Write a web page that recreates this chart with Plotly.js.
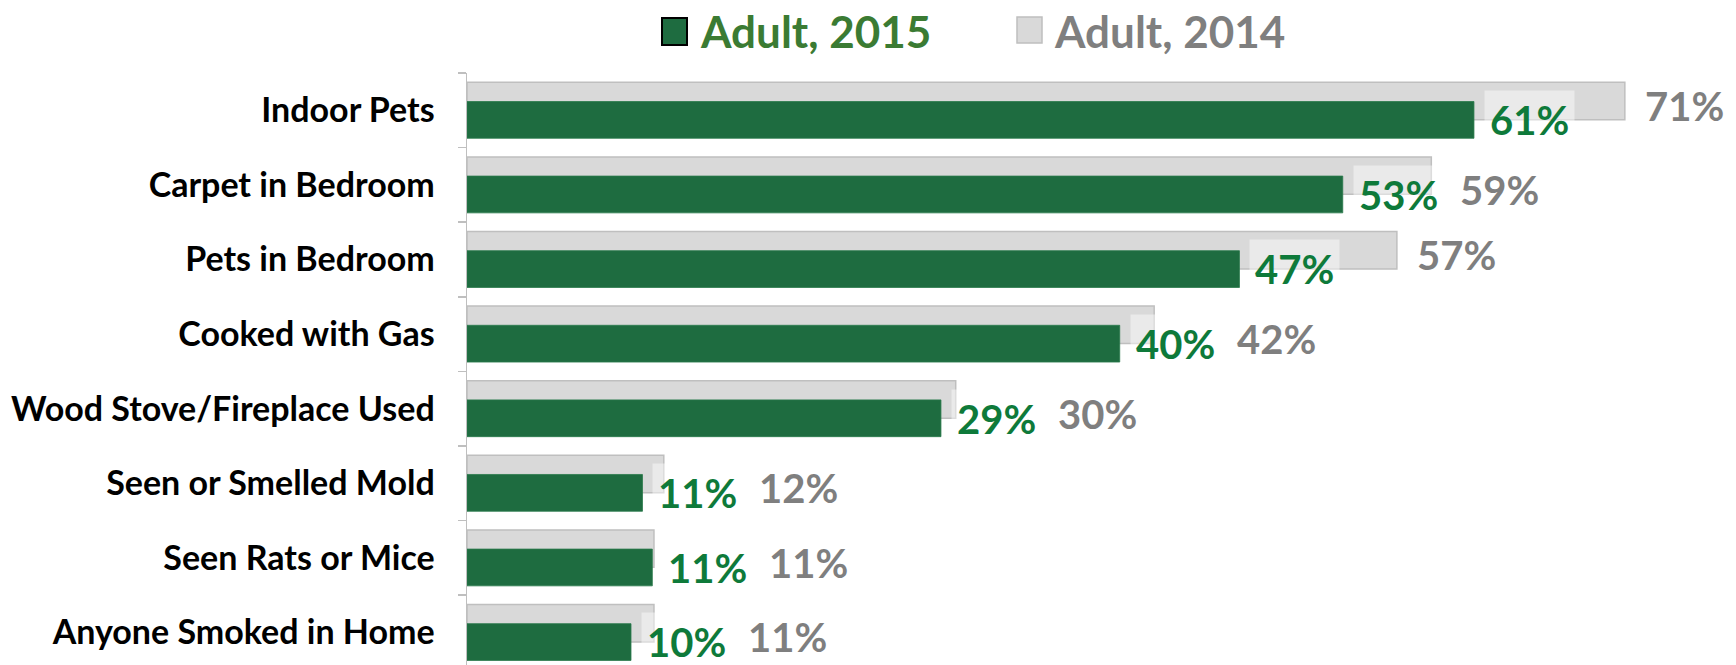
<!DOCTYPE html>
<html>
<head>
<meta charset="utf-8">
<script src="https://cdn.plot.ly/plotly-3.0.1.min.js"></script>
<style>
  html, body { margin: 0; padding: 0; background: #ffffff; }
  #chart { width: 1736px; height: 665px; }
</style>
</head>
<body>
<div id="chart"></div>
<script>
// ---- data (top-to-bottom order as shown) ----
const categories = [
  'Indoor Pets',
  'Carpet in Bedroom',
  'Pets in Bedroom',
  'Cooked with Gas',
  'Wood Stove/Fireplace Used',
  'Seen or Smelled Mold',
  'Seen Rats or Mice',
  'Anyone Smoked in Home'
];
const adult2015 = [61.4, 53.4, 47.1, 39.8, 28.9, 10.7, 11.3, 10.0];
const adult2014 = [70.6, 58.8, 56.7, 41.9, 29.8, 12.0, 11.4, 11.4];
const seriesNames = ['Adult, 2015', 'Adult, 2014'];

// ---- styling ----
const FONT = 'Lato, "Open Sans", sans-serif';
const GREEN_BAR = '#1e6c40';
const GREEN_TXT = '#0e7a3a';
const LEGEND_GREEN = '#3b7b33';
const GRAY_BAR = '#d9d9d9';
const GRAY_LINE = '#bfbfbf';
const GRAY_TXT = '#7f7f7f';

const W = 1736, H = 665;
const M = {l: 467, r: 0, t: 73, b: 0};
const plotW = W - M.l - M.r, plotH = H - M.t - M.b;
const px = x => (x - M.l) / plotW;
const py = y => (H - M.b - y) / plotH;

const traces = [
  {
    type: 'bar', orientation: 'h', name: seriesNames[1],
    y: categories, x: adult2014,
    width: 0.502, offset: -0.127,
    marker: {color: GRAY_BAR, line: {color: GRAY_LINE, width: 1.5}},
    hoverinfo: 'x+y', showlegend: false
  },
  {
    type: 'bar', orientation: 'h', name: seriesNames[0],
    y: categories, x: adult2015,
    width: 0.493, offset: -0.375,
    marker: {color: GREEN_BAR, line: {color: '#2a7a4b', width: 0.8}},
    hoverinfo: 'x+y', showlegend: false
  }
];

const annotations = [];
categories.forEach((c, i) => {
  const g15 = adult2015[i], g14 = adult2014[i];
  annotations.push({
    x: g15, y: c, xref: 'x', yref: 'y',
    xanchor: 'left', yanchor: 'middle', xshift: 10, yshift: -10,
    text: Math.round(g15) + '%', showarrow: false,
    bgcolor: 'rgba(255,255,255,0.45)', borderpad: 5,
    font: {family: FONT, size: 40, color: GREEN_TXT, weight: 700}
  });
  const pushed = (g15 + 7.0) > (g14 + 1.1);
  annotations.push({
    x: Math.max(g14 + 1.1, g15 + 7.0), y: c, xref: 'x', yref: 'y',
    xanchor: 'left', yanchor: 'middle', xshift: 0, yshift: pushed ? -5 : 4,
    text: Math.round(g14) + '%', showarrow: false, borderpad: 1,
    font: {family: FONT, size: 40, color: GRAY_TXT, weight: 700}
  });
});

// legend (drawn as text + swatches above plot)
annotations.push({
  xref: 'paper', yref: 'paper', x: px(698), y: py(31),
  xanchor: 'left', yanchor: 'middle', showarrow: false, borderpad: 1,
  text: seriesNames[0],
  font: {family: FONT, size: 44, color: LEGEND_GREEN, weight: 700}
});
annotations.push({
  xref: 'paper', yref: 'paper', x: px(1052), y: py(31),
  xanchor: 'left', yanchor: 'middle', showarrow: false, borderpad: 1,
  text: seriesNames[1],
  font: {family: FONT, size: 44, color: GRAY_TXT, weight: 700}
});

const shapes = [
  {type: 'rect', xref: 'paper', yref: 'paper',
   x0: px(662), x1: px(687), y0: py(45), y1: py(18),
   fillcolor: GREEN_BAR, line: {color: '#000000', width: 2}},
  {type: 'rect', xref: 'paper', yref: 'paper',
   x0: px(1017), x1: px(1042), y0: py(43), y1: py(17),
   fillcolor: GRAY_BAR, line: {color: GRAY_LINE, width: 1.5}}
];

const layout = {
  width: W, height: H,
  margin: M,
  paper_bgcolor: '#ffffff', plot_bgcolor: '#ffffff',
  barmode: 'overlay',
  showlegend: false,
  xaxis: {range: [0, plotW / 16.4], visible: false, fixedrange: true},
  yaxis: {
    type: 'category',
    categoryorder: 'array',
    categoryarray: categories.slice().reverse(),
    range: [-0.436, 7.5],
    showline: true, linecolor: GRAY_LINE, linewidth: 1.5,
    ticks: 'outside', tickson: 'boundaries', ticklen: 8,
    tickcolor: GRAY_LINE, tickwidth: 1.5,
    ticklabelstandoff: 24,
    showgrid: false, zeroline: false, fixedrange: true,
    tickfont: {family: FONT, size: 34, color: '#000000', weight: 700}
  },
  annotations: annotations,
  shapes: shapes
};

Plotly.newPlot('chart', traces, layout, {displayModeBar: false, staticPlot: true});
</script>
</body>
</html>
